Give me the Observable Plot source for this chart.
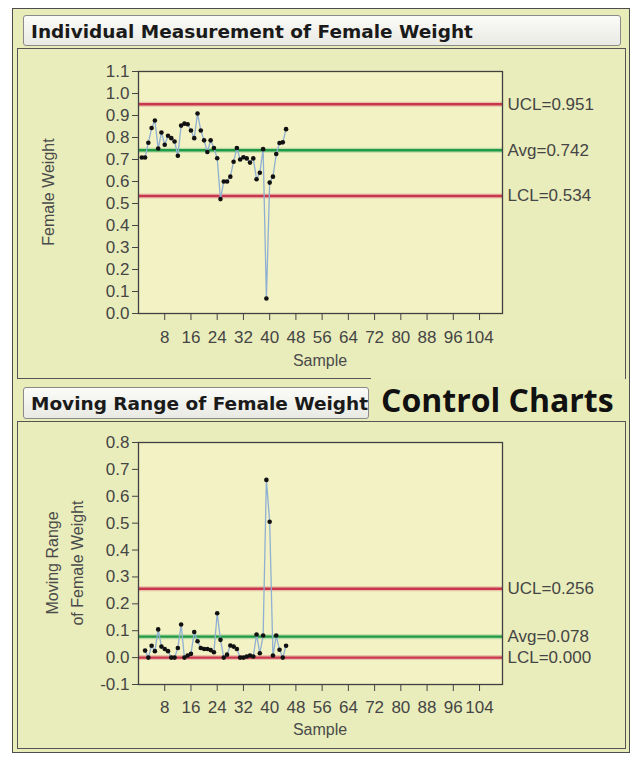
<!DOCTYPE html>
<html>
<head>
<meta charset="utf-8">
<script src="https://cdn.jsdelivr.net/npm/d3@7"></script>
<script src="https://cdn.jsdelivr.net/npm/@observablehq/plot@0.6"></script>
<style>
  html, body { margin: 0; padding: 0; background: #ffffff; }
  #page { position: relative; width: 634px; height: 757px; overflow: hidden; font-family: "Liberation Sans", Arial, sans-serif; }
  .abs { position: absolute; box-sizing: border-box; }
  .outer { left: 12px; top: 8px; width: 618px; height: 745px; background: #e8ecb9; border: 1.5px solid #4d4d4d; }
  .panel { left: 17px; width: 609px; border: 1.5px solid #555; background: #e9edbb; }
  .header { background: linear-gradient(#fbfbf8, #e9eae4); border: 1.3px solid #8a8a8a; border-radius: 3px;
            font-family: "DejaVu Sans", sans-serif; font-weight: bold; font-size: 18.5px; color: #1a1a1a;
            padding-left: 7px; white-space: nowrap; }
  .ytitle { color: #4a4a4a; font-size: 16px; white-space: nowrap; transform-origin: center; text-align: center; }
  .xtitle { color: #4a4a4a; font-size: 16px; white-space: nowrap; text-align: center; }
  .stamp { font-family: "Open Sans", sans-serif; font-weight: bold; font-size: 32px; color: #111; background: #e8ecb9;
           white-space: nowrap; padding-left: 10px; }
  svg { position: absolute; left: 0; }
</style>
</head>
<body>
<div id="page">
  <div class="abs outer"></div>
  <div class="abs panel" style="top:48px;height:331px;"></div>
  <div class="abs panel" style="top:421px;height:328px;"></div>
  <div class="abs header" style="left:23px;top:15px;width:598px;height:31px;line-height:31px;">Individual Measurement of Female Weight</div>
  <div class="abs header" style="left:23px;top:387px;width:346px;height:32px;line-height:32px;">Moving Range of Female Weight</div>
  <div class="abs stamp" style="left:371px;top:378px;width:254px;height:43px;line-height:43px;">Control Charts</div>
  <div class="abs ytitle" style="left:-10px;top:182px;width:120px;height:20px;transform:rotate(-90deg);">Female Weight</div>
  <div class="abs xtitle" style="left:270px;top:352px;width:100px;">Sample</div>
  <div class="abs ytitle" style="left:-17px;top:553px;width:140px;height:20px;line-height:20px;transform:rotate(-90deg);">Moving Range</div>
  <div class="abs ytitle" style="left:8px;top:553px;width:140px;height:20px;line-height:20px;transform:rotate(-90deg);">of Female Weight</div>
  <div class="abs xtitle" style="left:270px;top:721px;width:100px;">Sample</div>
</div>
<script>
// Sample axis
const sampleDomain = [0, 111];
const sampleTicks = [8, 16, 24, 32, 40, 48, 56, 64, 72, 80, 88, 96, 104];

// Individual measurements (samples 1..45)
const femaleWeight = [
  0.709, 0.709, 0.776, 0.843, 0.877, 0.750, 0.823, 0.767, 0.808, 0.797,
  0.782, 0.717, 0.854, 0.863, 0.860, 0.832, 0.797, 0.909, 0.832, 0.787,
  0.734, 0.787, 0.752, 0.706, 0.520, 0.600, 0.600, 0.622, 0.690, 0.752,
  0.700, 0.710, 0.705, 0.686, 0.705, 0.610, 0.640, 0.747, 0.068, 0.595,
  0.622, 0.725, 0.775, 0.778, 0.838
];
const weightTicks = [0.0, 0.1, 0.2, 0.3, 0.4, 0.5, 0.6, 0.7, 0.8, 0.9, 1.0, 1.1];
const weightLimitNames = ["UCL", "Avg", "LCL"];
const weightLimitValues = [0.951, 0.742, 0.534];

// Moving ranges (samples 2..45)
const movingRange = [
  0.026, 0.000, 0.044, 0.024, 0.105, 0.041, 0.032, 0.024, 0.000, 0.000,
  0.036, 0.123, 0.000, 0.008, 0.014, 0.095, 0.061, 0.036, 0.032, 0.032,
  0.028, 0.020, 0.165, 0.066, 0.000, 0.011, 0.045, 0.041, 0.032, 0.000,
  0.000, 0.004, 0.008, 0.004, 0.086, 0.016, 0.082, 0.661, 0.505, 0.008,
  0.082, 0.029, 0.000, 0.044
];
const rangeTicks = [-0.1, 0.0, 0.1, 0.2, 0.3, 0.4, 0.5, 0.6, 0.7, 0.8];
const rangeLimitNames = ["UCL", "Avg", "LCL"];
const rangeLimitValues = [0.256, 0.078, 0.000];

const limitColor = {UCL: "#c9374f", Avg: "#1f9a47", LCL: "#c9374f"};
const textColor = "#454545";

function controlChart({points, limits, yDomain, yTicks, top, height, marginTop, marginBottom, labelPadding}) {
  const chart = Plot.plot({
    width: 634,
    height,
    marginLeft: 138,
    marginRight: 132,
    marginTop,
    marginBottom,
    x: {domain: sampleDomain},
    y: {domain: yDomain},
    style: {background: "none", overflow: "visible", color: textColor,
            fontFamily: "'Liberation Sans', Arial, sans-serif", fontSize: "17px"},
    marks: [
      Plot.frame({fill: "#f3f2c5"}),
      Plot.ruleY(limits, {y: "value", stroke: d => limitColor[d.name], strokeWidth: 5, strokeOpacity: 0.25}),
      Plot.ruleY(limits, {y: "value", stroke: d => limitColor[d.name], strokeWidth: 2.4}),
      Plot.lineY(points, {x: "sample", y: "value", stroke: "#8fb0d2", strokeWidth: 1.3}),
      Plot.dot(points, {x: "sample", y: "value", r: 2.3, fill: "#111", stroke: "none"}),
      Plot.text(limits, {frameAnchor: "right", y: "value", text: d => `${d.name}=${d.value.toFixed(3)}`,
                         textAnchor: "start", dx: 5, fontSize: 17, fill: textColor}),
      Plot.axisX(sampleTicks, {tickSize: 7, tickPadding: labelPadding, stroke: "#444", fill: textColor, label: null, fontSize: 17}),
      Plot.axisY(yTicks, {tickSize: 6, tickPadding: 3, stroke: "#444", fill: textColor, label: null,
                          tickFormat: d => d.toFixed(1), fontSize: 17}),
      Plot.frame({stroke: "#404040", strokeWidth: 1.3})
    ]
  });
  chart.style.top = top + "px";
  document.getElementById("page").appendChild(chart);
}

controlChart({
  points: femaleWeight.map((value, i) => ({sample: i + 1, value})),
  limits: weightLimitNames.map((name, i) => ({name, value: weightLimitValues[i]})),
  yDomain: [0, 1.1],
  yTicks: weightTicks,
  top: 0,
  height: 380,
  marginTop: 71,
  marginBottom: 67,
  labelPadding: 10
});

controlChart({
  points: movingRange.map((value, i) => ({sample: i + 2, value})),
  limits: rangeLimitNames.map((name, i) => ({name, value: rangeLimitValues[i]})),
  yDomain: [-0.1, 0.8],
  yTicks: rangeTicks,
  top: 380,
  height: 377,
  marginTop: 62,
  marginBottom: 73,
  labelPadding: 9
});
</script>
</body>
</html>
